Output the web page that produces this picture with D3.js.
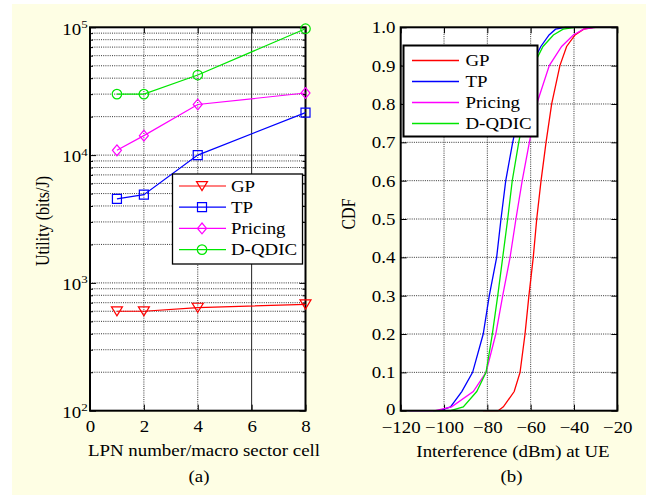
<!DOCTYPE html>
<html><head><meta charset="utf-8">
<script src="https://cdn.jsdelivr.net/npm/d3@7"></script>
<style>
body{margin:0;background:#fff}
svg{display:block}
text{font-family:"Liberation Serif","Times New Roman",serif;fill:#000}
</style></head>
<body><svg id="c" width="646" height="495"></svg>
<script>
// ---------- data ----------
const lpnNumbers = [1, 2, 4, 8];
const utilGP      = [600, 600, 640, 680];
const utilTP      = [4550, 4900, 10000, 21500];
const utilPricing = [10900, 14200, 24900, 30600];
const utilDQDIC   = [30000, 30000, 42300, 97500];

const seriesNames  = ["GP", "TP", "Pricing", "D-QDIC"];
const seriesColors = ["#ff0000", "#0000ff", "#ff00ff", "#00e600"];

const cdfLevels      = [0, 0, 0.01, 0.05, 0.1, 0.2, 0.3, 0.4, 0.5, 0.6, 0.7, 0.8, 0.9, 0.95, 0.98, 0.995, 1, 1];
const interfGP       = [-82, -75, -72.6, -67.6, -64.9, -62.6, -60.8, -58.8, -57.2, -55.2, -52.9, -50.3, -46.5, -43.4, -39.5, -35.5, -31, -20];
const interfTP       = [-117, -102, -97, -91.8, -86.8, -81.9, -79.1, -75.7, -73.7, -71.5, -68.3, -64.5, -59.8, -55.3, -51.5, -48.5, -44, -20];
const interfPricing  = [-116, -104, -96.5, -86.5, -80.6, -76.1, -72.9, -69.5, -66.8, -63.9, -60.6, -57.2, -51.4, -45.7, -40.3, -35.5, -30, -20];
const interfDQDIC    = [-105, -97, -91.1, -84.9, -80.6, -77.7, -75.2, -72.9, -70.6, -68.5, -65.5, -62, -58.8, -54.3, -49.5, -45, -39.5, -20];

const xTicksA = [0, 2, 4, 6, 8];
const yTicksA = [100, 1000, 10000, 100000];
const xTicksB = [-120, -100, -80, -60, -40, -20];
const yTicksB = [0, 0.1, 0.2, 0.3, 0.4, 0.5, 0.6, 0.7, 0.8, 0.9, 1.0];

// ---------- setup ----------
const SX = 1.18;   // horizontal text stretch seen in the reference
const FS = 16;
const svg = d3.select("#c");
svg.append("rect").attr("x", 12).attr("y", 4).attr("width", 634).attr("height", 491).attr("fill", "#fefee4");

function label(x, y, txt, anchor) {
  return svg.append("text")
    .attr("transform", `translate(${x},${y}) scale(${SX},1)`)
    .attr("text-anchor", anchor || "middle")
    .style("font-size", FS + "px")
    .text(txt);
}

function styleAxis(g) {
  g.select(".domain").remove();
  g.selectAll(".tick line").attr("stroke", "#000").attr("stroke-width", 1);
  g.selectAll(".tick text").style("font-size", FS + "px")
    .style("font-family", '"Liberation Serif","Times New Roman",serif')
    .attr("fill", "#000");
}

const dotted = {stroke: "#111", dash: "1,1.2", w: 0.85};

// custom markers
const triDown = {draw(ctx, s) { const r = Math.sqrt(s) / 2; ctx.moveTo(-r, -0.8 * r); ctx.lineTo(r, -0.8 * r); ctx.lineTo(0, 0.85 * r); ctx.closePath(); }};
const squareM = {draw(ctx, s) { const r = Math.sqrt(s) / 2; ctx.rect(-r, -r, 2 * r, 2 * r); }};
const diamondM = {draw(ctx, s) { const r = Math.sqrt(s) / 2; ctx.moveTo(0, -1.2 * r); ctx.lineTo(r, 0); ctx.lineTo(0, 1.2 * r); ctx.lineTo(-r, 0); ctx.closePath(); }};
const circleM = {draw(ctx, s) { const r = Math.sqrt(s) / 2; ctx.moveTo(r, 0); ctx.arc(0, 0, r, 0, 2 * Math.PI); }};
const markerTypes = [triDown, squareM, diamondM, circleM];
const markerSizes = [121, 81, 81, 90];

// ================= Panel (a) =================
const ax0 = 90, ax1 = 305.5, ay0 = 27.3, ay1 = 410.7;
const xA = d3.scaleLinear().domain([0, 8]).range([ax0, ax1]);
const yA = d3.scaleLog().domain([100, 100000]).range([ay1, ay0]);

svg.append("rect").attr("x", ax0).attr("y", ay0).attr("width", ax1 - ax0).attr("height", ay1 - ay0).attr("fill", "#fff");

const minorA = [];
[100, 1000, 10000].forEach(d => { for (let k = 1; k <= 9; k++) { if (d * k > 100) minorA.push(d * k); } });
const gA = svg.append("g");
gA.selectAll("line.hg").data(minorA.filter(v => v < 100000)).join("line")
  .attr("x1", ax0).attr("x2", ax1).attr("y1", d => yA(d)).attr("y2", d => yA(d))
  .attr("stroke", dotted.stroke).attr("stroke-dasharray", dotted.dash).attr("stroke-width", dotted.w);
gA.selectAll("line.vg").data([2, 4]).join("line")
  .attr("x1", d => xA(d)).attr("x2", d => xA(d)).attr("y1", ay0).attr("y2", ay1)
  .attr("stroke", dotted.stroke).attr("stroke-dasharray", dotted.dash).attr("stroke-width", dotted.w);
gA.append("line").attr("x1", xA(6)).attr("x2", xA(6)).attr("y1", ay0).attr("y2", ay1)
  .attr("stroke", "#222").attr("stroke-width", 1);

// ticks
const minorTickA = minorA.filter(v => !yTicksA.includes(v));
styleAxis(svg.append("g").attr("transform", `translate(${ax0},0)`).call(d3.axisLeft(yA).tickValues(minorTickA).tickSize(-3).tickFormat("")));
styleAxis(svg.append("g").attr("transform", `translate(${ax1},0)`).call(d3.axisRight(yA).tickValues(minorTickA).tickSize(-3).tickFormat("")));
styleAxis(svg.append("g").attr("transform", `translate(${ax1},0)`).call(d3.axisRight(yA).tickValues(yTicksA).tickSize(-6).tickFormat("")));
const yAxA = svg.append("g").attr("transform", `translate(${ax0},0)`).call(d3.axisLeft(yA).tickValues(yTicksA).tickSize(-6).tickPadding(2).tickFormat(""));
styleAxis(yAxA);
yAxA.selectAll(".tick text").each(function(d) {
  const t = d3.select(this);
  t.text(null).attr("transform", `scale(${SX},1)`).attr("dy", "0.42em");
  t.append("tspan").text("10");
  t.append("tspan").attr("dy", "-0.62em").style("font-size", "11px").text(Math.round(Math.log10(d)));
});
const xAxA = svg.append("g").attr("transform", `translate(0,${ay1})`).call(d3.axisBottom(xA).tickValues(xTicksA).tickSize(-6).tickPadding(13).tickFormat(d3.format("d")));
styleAxis(xAxA);
xAxA.selectAll(".tick text").attr("transform", `scale(${SX},1)`).attr("dy", "0.55em");
styleAxis(svg.append("g").attr("transform", `translate(0,${ay0})`).call(d3.axisTop(xA).tickValues(xTicksA).tickSize(-6).tickFormat("")));

svg.append("rect").attr("x", ax0).attr("y", ay0).attr("width", ax1 - ax0).attr("height", ay1 - ay0)
  .attr("fill", "none").attr("stroke", "#000").attr("stroke-width", 2);

const utilSeries = [utilGP, utilTP, utilPricing, utilDQDIC];
const lineA = d3.line().x((d, i) => xA(lpnNumbers[i])).y(d => yA(d));
utilSeries.forEach((vals, si) => {
  svg.append("path").attr("d", lineA(vals)).attr("fill", "none").attr("stroke", seriesColors[si]).attr("stroke-width", 1.2);
  svg.selectAll(null).data(vals).join("path")
    .attr("transform", (d, i) => `translate(${xA(lpnNumbers[i])},${yA(d)})`)
    .attr("d", d3.symbol().type(markerTypes[si]).size(markerSizes[si]))
    .attr("fill", "none").attr("stroke", seriesColors[si]).attr("stroke-width", 1.2);
});

// legend (a)
const lgA = svg.append("g");
lgA.append("rect").attr("x", 172.5).attr("y", 174).attr("width", 130).attr("height", 90)
  .attr("fill", "#fff").attr("stroke", "#000").attr("stroke-width", 1.3);
seriesNames.forEach((n, i) => {
  const y = 186 + i * 21.2;
  lgA.append("line").attr("x1", 179).attr("x2", 226).attr("y1", y).attr("y2", y).attr("stroke", seriesColors[i]).attr("stroke-width", 1.2);
  lgA.append("path").attr("transform", `translate(202,${y})`).attr("d", d3.symbol().type(markerTypes[i]).size(markerSizes[i]))
    .attr("fill", "none").attr("stroke", seriesColors[i]).attr("stroke-width", 1.2);
  lgA.append("text").attr("transform", `translate(231,${y + 5.5}) scale(${SX},1)`).style("font-size", FS + "px").text(n);
});

label(204, 456, "LPN number/macro sector cell");
label(199, 482, "(a)");
svg.append("text").attr("transform", `translate(49,221) scale(${SX},1) rotate(-90)`).attr("text-anchor", "middle")
  .style("font-size", FS + "px").text("Utility (bits/J)");

// ================= Panel (b) =================
const bx0 = 400.7, bx1 = 617.3, by0 = 27.3, by1 = 410.7;
const xB = d3.scaleLinear().domain([-120, -20]).range([bx0, bx1]);
const yB = d3.scaleLinear().domain([0, 1]).range([by1, by0]);

svg.append("rect").attr("x", bx0).attr("y", by0).attr("width", bx1 - bx0).attr("height", by1 - by0).attr("fill", "#fff");
const gB = svg.append("g");
gB.selectAll("line.hg").data(yTicksB.slice(1, -1)).join("line")
  .attr("x1", bx0).attr("x2", bx1).attr("y1", d => yB(d)).attr("y2", d => yB(d))
  .attr("stroke", dotted.stroke).attr("stroke-dasharray", dotted.dash).attr("stroke-width", dotted.w);
gB.selectAll("line.vg").data(xTicksB.slice(1, -1)).join("line")
  .attr("x1", d => xB(d)).attr("x2", d => xB(d)).attr("y1", by0).attr("y2", by1)
  .attr("stroke", dotted.stroke).attr("stroke-dasharray", dotted.dash).attr("stroke-width", dotted.w);

const yAxB = svg.append("g").attr("transform", `translate(${bx0},0)`)
  .call(d3.axisLeft(yB).tickValues(yTicksB).tickSize(-6).tickPadding(4.5).tickFormat(d => d === 0 ? "0" : d3.format(".1f")(d)));
styleAxis(yAxB);
yAxB.selectAll(".tick text").attr("transform", `scale(${SX},1)`).attr("dy", d => d === 0 ? "0.22em" : "0.34em");
styleAxis(svg.append("g").attr("transform", `translate(${bx1},0)`).call(d3.axisRight(yB).tickValues(yTicksB).tickSize(-6).tickFormat("")));
const xAxB = svg.append("g").attr("transform", `translate(0,${by1})`).call(d3.axisBottom(xB).tickValues(xTicksB).tickSize(-6).tickPadding(13));
styleAxis(xAxB);
xAxB.selectAll(".tick text").attr("transform", `scale(${SX},1)`).attr("dy", "0.58em");
styleAxis(svg.append("g").attr("transform", `translate(0,${by0})`).call(d3.axisTop(xB).tickValues(xTicksB).tickSize(-6).tickFormat("")));

const interfSeries = [interfGP, interfTP, interfPricing, interfDQDIC];
const lineB = d3.line().x(d => xB(d)).y((d, i) => yB(cdfLevels[i]));
interfSeries.forEach((vals, si) => {
  svg.append("path").attr("d", lineB(vals)).attr("fill", "none").attr("stroke", seriesColors[si]).attr("stroke-width", 1.3);
});

svg.append("rect").attr("x", bx0).attr("y", by0).attr("width", bx1 - bx0).attr("height", by1 - by0)
  .attr("fill", "none").attr("stroke", "#000").attr("stroke-width", 2);

// legend (b)
const lgB = svg.append("g");
lgB.append("rect").attr("x", 403.5).attr("y", 45.5).attr("width", 134).attr("height", 91)
  .attr("fill", "#fff").attr("stroke", "#000").attr("stroke-width", 2);
seriesNames.forEach((n, i) => {
  const y = 60.5 + i * 21;
  lgB.append("line").attr("x1", 412).attr("x2", 459).attr("y1", y).attr("y2", y).attr("stroke", seriesColors[i]).attr("stroke-width", 1.3);
  lgB.append("text").attr("transform", `translate(465.5,${y + 5.5}) scale(${SX},1)`).style("font-size", FS + "px").text(n);
});

label(513, 456.5, "Interference (dBm) at UE");
label(511.5, 482, "(b)");
svg.append("text").attr("transform", `translate(355,214) scale(${SX},1) rotate(-90)`).attr("text-anchor", "middle")
  .style("font-size", FS + "px").text("CDF");
</script>
</body></html>
